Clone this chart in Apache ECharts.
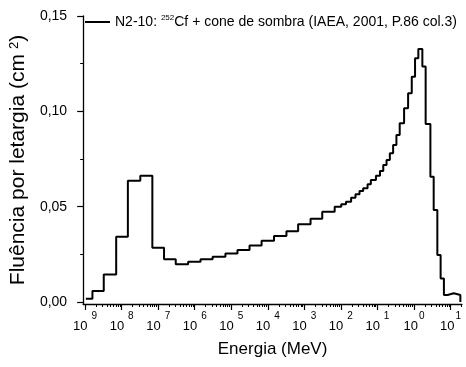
<!DOCTYPE html>
<html>
<head>
<meta charset="utf-8">
<script src="https://cdn.jsdelivr.net/npm/echarts@6/dist/echarts.min.js"></script>
<style>
html,body{margin:0;padding:0;background:#fff}
#chart{width:466px;height:367px}
</style>
</head>
<body>
<div id="chart"></div>
<script>
// bin edges as log10(E / MeV)
var EDGES = [-8.98, -8.80, -8.49, -8.15, -7.83, -7.49, -7.16, -6.84, -6.52, -6.18,
             -5.84, -5.51, -5.16, -4.83, -4.50, -4.17, -3.83, -3.49, -3.17, -2.83,
             -2.51, -2.17, -1.99, -1.86, -1.72, -1.60, -1.49, -1.39, -1.27, -1.18,
             -1.04, -0.93, -0.84, -0.75, -0.66, -0.57, -0.48, -0.39, -0.27, -0.16,
             -0.06, 0.03, 0.12, 0.23, 0.32, 0.45, 0.54, 0.64, 0.73, 0.82,
             0.92, 1.09, 1.27];
// fluence per lethargy (cm-2) in each bin
var FLUENCE = [0.0017, 0.0058, 0.0145, 0.0343, 0.0636, 0.0663, 0.0285, 0.0224, 0.0198, 0.0211,
               0.0224, 0.0238, 0.0255, 0.0273, 0.0297, 0.0322, 0.0346, 0.0372, 0.0408, 0.0437,
               0.0474, 0.0500, 0.0513, 0.0526, 0.0547, 0.0565, 0.0582, 0.0597, 0.0618, 0.0640,
               0.0663, 0.0687, 0.0719, 0.0745, 0.0780, 0.0824, 0.0876, 0.0938, 0.1016, 0.1095,
               0.1182, 0.1279, 0.1327, 0.1235, 0.0934, 0.0657, 0.0483, 0.0247, 0.0124, 0.0037,
               0.0046, 0.0037];
var X_MAJOR = [-9, -8, -7, -6, -5, -4, -3, -2, -1, 0, 1];
var Y_TICKS = [0, 0.05, 0.10, 0.15];
var Y_MINOR = [0.025, 0.075, 0.125];
var SERIES_NAME = 'N2-10: 252Cf + cone de sombra (IAEA, 2001, P.86 col.3)';

var X_MIN = -9.054, X_MAX = 1.315;

// log minor ticks 2..9 in each decade
var xMinor = [];
for (var n = -9; n <= 1; n++) {
    for (var k = 2; k <= 9; k++) {
        var p = n + Math.log10(k);
        if (p < X_MAX) xMinor.push(p);
    }
}

var pts = [];
for (var i = 0; i < FLUENCE.length; i++) {
    pts.push([EDGES[i], FLUENCE[i]]);
}
pts.push([EDGES[EDGES.length - 1], FLUENCE[FLUENCE.length - 1]]);
pts.push([EDGES[EDGES.length - 1], 0]);

var FONT = 'Arial, "Liberation Sans", sans-serif';

var chart = echarts.init(document.getElementById('chart'));
chart.setOption({
    backgroundColor: '#fff',
    animation: false,
    textStyle: {fontFamily: FONT, color: '#000'},
    grid: {left: 80, right: 4, top: 16, bottom: 63},
    legend: {
        left: 80,
        top: 9,
        itemWidth: 25,
        itemHeight: 2,
        itemGap: 5,
        icon: 'rect',
        data: [{name: SERIES_NAME, itemStyle: {color: '#000'}}],
        formatter: function (name) {
            return name.replace('252Cf', '{s|252}Cf');
        },
        textStyle: {
            fontFamily: FONT, fontSize: 14, color: '#000', lineHeight: 16,
            rich: {
                s: {fontFamily: FONT, fontSize: 8, lineHeight: 8, verticalAlign: 'top', color: '#000'}
            }
        }
    },
    xAxis: [{
        type: 'value',
        min: X_MIN,
        max: X_MAX,
        position: 'bottom',
        name: 'Energia (MeV)',
        nameLocation: 'middle',
        nameGap: 37,
        nameTextStyle: {fontFamily: FONT, fontSize: 17, color: '#000'},
        axisLine: {show: true, onZero: false, lineStyle: {color: '#000', width: 1.3}},
        axisTick: {show: true, inside: false, length: 6, customValues: X_MAJOR, lineStyle: {color: '#000', width: 1.2}},
        axisLabel: {
            customValues: X_MAJOR,
            margin: 7,
            formatter: function (v) {
                var e = Math.round(v);
                return '{b|10}{' + (e < 0 ? 'n' : 'p') + '|' + Math.abs(e) + '}';
            },
            rich: {
                b: {fontFamily: FONT, fontSize: 13, lineHeight: 22, verticalAlign: 'bottom', color: '#000'},
                n: {fontFamily: FONT, fontSize: 10, lineHeight: 11, verticalAlign: 'top', padding: [0, 0, 0, 4], color: '#000'},
                p: {fontFamily: FONT, fontSize: 10, lineHeight: 11, verticalAlign: 'top', padding: [0, 0, 0, 1], color: '#000'}
            }
        },
        splitLine: {show: false}
    }, {
        type: 'value',
        min: X_MIN,
        max: X_MAX,
        position: 'bottom',
        axisLine: {show: false, onZero: false},
        axisTick: {show: true, inside: false, length: 3, customValues: xMinor, lineStyle: {color: '#000', width: 1}},
        axisLabel: {show: false},
        splitLine: {show: false}
    }],
    yAxis: [{
        type: 'value',
        min: -0.001,
        max: 0.15,
        position: 'left',
        name: 'Fluência por letargia (cm{s|2})',
        nameLocation: 'middle',
        nameGap: 44,
        nameTextStyle: {
            fontFamily: FONT, fontSize: 21, color: '#000',
            rich: {
                s: {fontFamily: FONT, fontSize: 13, verticalAlign: 'top', padding: [0, 0, 0, 5], color: '#000'}
            }
        },
        axisLine: {show: true, onZero: false, lineStyle: {color: '#000', width: 1.3}},
        axisTick: {show: true, inside: false, length: 6, customValues: Y_TICKS, lineStyle: {color: '#000', width: 1.2}},
        axisLabel: {
            customValues: Y_TICKS,
            margin: 16,
            fontFamily: FONT,
            fontSize: 14,
            color: '#000',
            formatter: function (v) {
                return v.toFixed(2).replace('.', ',');
            }
        },
        splitLine: {show: false}
    }, {
        type: 'value',
        min: -0.001,
        max: 0.15,
        position: 'left',
        axisLine: {show: false, onZero: false},
        axisTick: {show: true, inside: false, length: 3, customValues: Y_MINOR, lineStyle: {color: '#000', width: 1}},
        axisLabel: {show: false},
        splitLine: {show: false}
    }],
    series: [{
        name: SERIES_NAME,
        type: 'line',
        step: 'end',
        symbol: 'none',
        xAxisIndex: 0,
        yAxisIndex: 0,
        lineStyle: {color: '#000', width: 2},
        itemStyle: {color: '#000'},
        data: pts
    }]
});
</script>
</body>
</html>
